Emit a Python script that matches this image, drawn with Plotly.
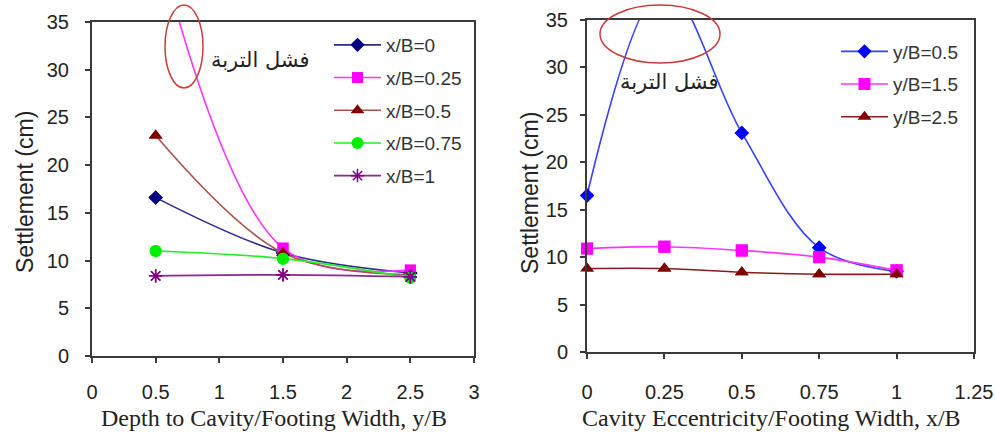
import plotly.graph_objects as go

W, H = 995, 432

# ---------------- data ----------------
# Left chart: settlement vs depth ratio y/B, one series per eccentricity x/B
depth_ratio = [0.5, 1.5, 2.5]
left_names = ["x/B=0", "x/B=0.25", "x/B=0.5", "x/B=0.75", "x/B=1"]
s_xb_0 = [16.6, 10.8, 8.7]
s_xb_025 = [44.0, 11.3, 9.0]
s_xb_05 = [23.1, 10.8, 8.5]
s_xb_075 = [11.0, 10.2, 8.2]
s_xb_1 = [8.4, 8.5, 8.3]

# Right chart: settlement vs eccentricity x/B, one series per depth ratio y/B
ecc_ratio = [0, 0.25, 0.5, 0.75, 1]
right_names = ["y/B=0.5", "y/B=1.5", "y/B=2.5"]
s_yb_05 = [16.5, 38.5, 23.1, 11.0, 8.5]
s_yb_15 = [10.9, 11.1, 10.7, 10.0, 8.6]
s_yb_25 = [8.8, 8.8, 8.4, 8.2, 8.2]

left_ticks = [0, 0.5, 1, 1.5, 2, 2.5, 3]
right_ticks = [0, 0.25, 0.5, 0.75, 1, 1.25]
y_ticks = [0, 5, 10, 15, 20, 25, 30, 35]
Y_MAX = 35

failure_label = "فشل التربة"
left_xtitle = "Depth to Cavity/Footing Width, y/B"
right_xtitle = "Cavity Eccentricity/Footing Width, x/B"
ytitle = "Settlement (cm)"

# ---------------- styles ----------------
left_series = [
    (left_names[0], s_xb_0, "#2b2b8c", "#000080", "diamond", 11),
    (left_names[1], s_xb_025, "#ff33ff", "#ff00ff", "square", 11),
    (left_names[2], s_xb_05, "#a8524c", "#800000", "triangle-up", 12),
    (left_names[3], s_xb_075, "#22ee22", "#00ee00", "circle", 12),
    (left_names[4], s_xb_1, "#8a2a8a", "#800080", "asterisk-open", 11),
]
right_series = [
    (right_names[0], s_yb_05, "#3340ff", "#0000ff", "diamond", 11),
    (right_names[1], s_yb_15, "#ff33ff", "#ff00ff", "square", 12),
    (right_names[2], s_yb_25, "#8b1a1a", "#800000", "triangle-up", 12),
]


def px(x):
    return x / W


def py(y):
    return 1 - y / H


fig = go.Figure()


def add_series(series, xs, xa, ya, legend):
    for name, vals, lc, mc, sym, size in series:
        mline = dict(width=1.5, color=mc) if sym == "asterisk-open" else dict(width=0)
        fig.add_trace(go.Scatter(
            x=xs, y=vals, name=name, mode="lines+markers",
            line=dict(color=lc, width=1.6, shape="spline", smoothing=1),
            marker=dict(symbol=sym, size=size, color=mc, line=mline),
            xaxis=xa, yaxis=ya, legend=legend, legendgroup=name,
            cliponaxis=True,
        ))
        # unclipped markers for the points that lie inside the value range
        inx = [x for x, v in zip(xs, vals) if v <= Y_MAX]
        inv = [v for v in vals if v <= Y_MAX]
        fig.add_trace(go.Scatter(
            x=inx, y=inv, mode="markers", showlegend=False,
            marker=dict(symbol=sym, size=size, color=mc, line=mline),
            xaxis=xa, yaxis=ya, cliponaxis=False, hoverinfo="skip",
        ))


add_series(left_series, depth_ratio, "x", "y", "legend")
add_series(right_series, ecc_ratio, "x2", "y2", "legend2")

axis_common = dict(
    showline=True, linecolor="#3a3a3a", linewidth=2, mirror=True,
    ticks="outside", ticklen=5, tickwidth=1.5, tickcolor="#3a3a3a",
    showgrid=False, zeroline=False, automargin=False,
    tickfont=dict(family="Liberation Sans, Arial", size=20, color="#222"),
)

legend_font = dict(family="Liberation Sans, Arial", size=19, color="#333")

fig.update_layout(
    width=W, height=H,
    margin=dict(l=0, r=0, t=0, b=0),
    paper_bgcolor="white", plot_bgcolor="white",
    xaxis=dict(domain=[px(92), px(474)], range=[0, 3], tickvals=left_ticks,
               anchor="y", ticklabelstandoff=12, **axis_common),
    yaxis=dict(domain=[py(356), py(22)], range=[0, 35], tickvals=y_ticks,
               anchor="x", ticklabelstandoff=12, **axis_common),
    xaxis2=dict(domain=[px(587), px(974)], range=[0, 1.25], tickvals=right_ticks,
                anchor="y2", ticklabelstandoff=16, **axis_common),
    yaxis2=dict(domain=[py(352), py(20)], range=[0, 35], tickvals=y_ticks,
                anchor="x2", ticklabelstandoff=8, **axis_common),
    legend=dict(x=px(329), y=py(26), xanchor="left", yanchor="top",
                bgcolor="rgba(0,0,0,0)", borderwidth=0, font=legend_font,
                itemwidth=47, traceorder="grouped", tracegroupgap=5),
    legend2=dict(x=px(836), y=py(32.5), xanchor="left", yanchor="top",
                 bgcolor="rgba(0,0,0,0)", borderwidth=0, font=legend_font,
                 itemwidth=47, traceorder="grouped", tracegroupgap=5),
    showlegend=True,
)

# failure ellipses
fig.add_shape(type="circle", xref="paper", yref="paper",
              x0=px(165), x1=px(203), y0=py(88), y1=py(5),
              line=dict(color="#cc3b3b", width=1.5))
fig.add_shape(type="circle", xref="paper", yref="paper",
              x0=px(600), x1=px(720), y0=py(63), y1=py(5),
              line=dict(color="#cc3b3b", width=1.5))


def note(x, y, text, font, angle=0):
    fig.add_annotation(x=px(x), y=py(y), xref="paper", yref="paper",
                       xanchor="center", yanchor="middle", text=text,
                       showarrow=False, font=font, textangle=angle)


ann_font_ar = dict(family="DejaVu Sans", size=21, color="#222")
note(260, 60, failure_label, ann_font_ar)
note(669, 82, failure_label, ann_font_ar)

title_font_x = dict(family="Liberation Serif, Times New Roman", size=24, color="#222")
title_font_y = dict(family="Liberation Sans, Arial", size=23, color="#222")
note(274, 418, left_xtitle, title_font_x)
note(771, 418, right_xtitle, title_font_x)
note(25, 192, ytitle, title_font_y, -90)
note(530, 193, ytitle, title_font_y, -90)

fig.write_html("out.html")
